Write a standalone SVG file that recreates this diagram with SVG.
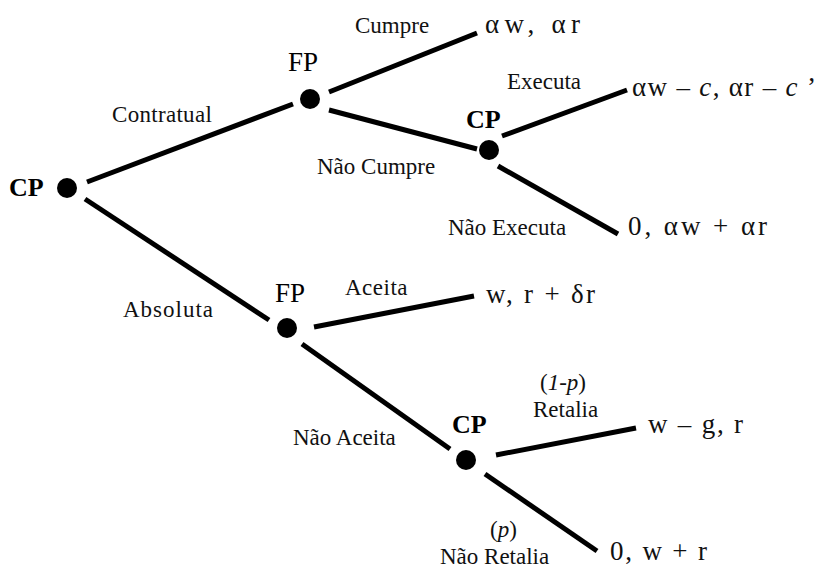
<svg xmlns="http://www.w3.org/2000/svg" width="820" height="570" viewBox="0 0 820 570">
<style>
.e{stroke:#000;stroke-width:5;stroke-linecap:butt;fill:none}
.d{fill:#000}
.lbl{font-family:"Liberation Serif","Times New Roman",serif;font-size:23px;fill:#111}
.pl{font-family:"Liberation Serif","Times New Roman",serif;font-size:27px;fill:#111}
.nm{font-family:"Liberation Serif","Times New Roman",serif;font-size:27px;fill:#000}
.nb{font-family:"Liberation Serif","Times New Roman",serif;font-size:26px;font-weight:bold;fill:#000}
.i{font-style:italic}
</style>
<rect width="820" height="570" fill="#fff"/>
<g id="connectors">
<line class="e" x1="87" y1="182" x2="293" y2="104"/>
<line class="e" x1="85" y1="199" x2="269" y2="320"/>
<line class="e" x1="329" y1="92" x2="477" y2="33"/>
<line class="e" x1="329" y1="110" x2="477" y2="149"/>
<line class="e" x1="502" y1="136" x2="627" y2="90"/>
<line class="e" x1="498" y1="166" x2="618" y2="234"/>
<line class="e" x1="314" y1="327" x2="474" y2="296"/>
<line class="e" x1="302" y1="344" x2="450" y2="449"/>
<line class="e" x1="496" y1="455" x2="636" y2="428"/>
<line class="e" x1="485" y1="474" x2="597" y2="551"/>
</g>
<g id="edge-labels">
<text class="lbl" x="112" y="122" letter-spacing="0.3">Contratual</text>
<text class="lbl" x="123" y="317" letter-spacing="1">Absoluta</text>
<text class="lbl" x="355" y="33">Cumpre</text>
<text class="lbl" x="317" y="174">Não Cumpre</text>
<text class="lbl" x="507" y="89">Executa</text>
<text class="lbl" x="448" y="235">Não Executa</text>
<text class="lbl" x="345" y="295" letter-spacing="0.5">Aceita</text>
<text class="lbl" x="293" y="445">Não Aceita</text>
<text class="lbl" x="540" y="390" font-size="25">(<tspan class="i">1</tspan>-<tspan class="i">p</tspan>)</text>
<text class="lbl" x="533" y="417">Retalia</text>
<text class="lbl" x="490" y="537" font-size="25">(<tspan class="i">p</tspan>)</text>
<text class="lbl" x="440" y="564">Não Retalia</text>
</g>
<g id="n-root">
<circle class="d" cx="67" cy="188" r="10"/>
<text class="nb" x="9" y="196">CP</text>
</g>
<g id="n-fp1">
<circle class="d" cx="310" cy="99" r="10"/>
<text class="nm" x="288" y="71">FP</text>
</g>
<g id="n-cp2">
<circle class="d" cx="489" cy="150" r="10"/>
<text class="nb" x="466" y="128">CP</text>
</g>
<g id="n-fp3">
<circle class="d" cx="287" cy="328" r="10"/>
<text class="nm" x="275" y="302">FP</text>
</g>
<g id="n-cp4">
<circle class="d" cx="466" cy="460" r="10"/>
<text class="nb" x="452" y="433">CP</text>
</g>
<g id="t-cumpre">
<text class="pl" x="485" y="33" textLength="95" lengthAdjust="spacing">αw,  αr</text>
</g>
<g id="t-executa">
<text class="pl" x="632" y="96" textLength="184" lengthAdjust="spacing">αw – <tspan class="i">c</tspan>, αr – <tspan class="i">c</tspan> ’</text>
</g>
<g id="t-naoexecuta">
<text class="pl" x="628" y="235" textLength="139" lengthAdjust="spacing">0,  αw + αr</text>
</g>
<g id="t-aceita">
<text class="pl" x="486" y="303" textLength="109" lengthAdjust="spacing">w, r + δr</text>
</g>
<g id="t-retalia">
<text class="pl" x="648" y="433" textLength="95" lengthAdjust="spacing">w – g, r</text>
</g>
<g id="t-naoretalia">
<text class="pl" x="610" y="560" textLength="97" lengthAdjust="spacing">0, w + r</text>
</g>
</svg>
